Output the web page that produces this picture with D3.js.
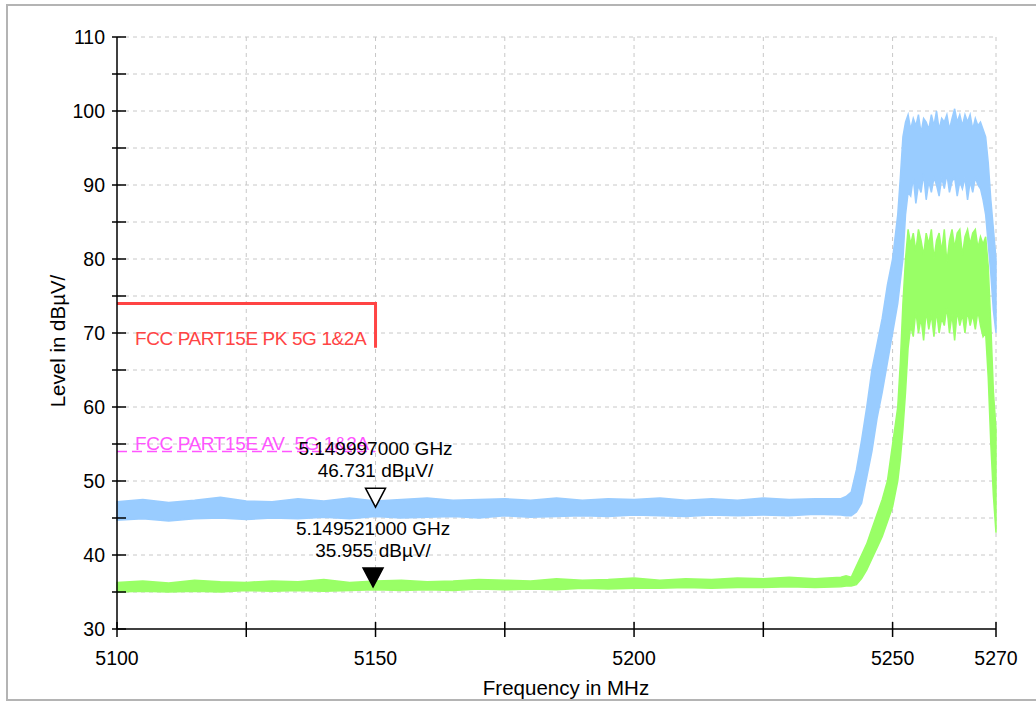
<!DOCTYPE html>
<html>
<head>
<script src="https://d3js.org/d3.v7.min.js"></script>
<style>
	body { margin: 0; background: #fff; }
	text { font-family: "Liberation Sans", Arial, sans-serif; }
	.grid line { stroke: #c8c8c8; stroke-width: 1px; stroke-dasharray: 4,4; }
	.axis line, .axis path { stroke: #000; stroke-width: 1.5px; }
</style>
</head>
<body>
<svg id="chart" width="1036" height="702"></svg>
<script>
// sample frequencies (MHz)
const freq = [5100, 5105, 5110, 5115, 5120, 5125, 5130, 5135, 5140, 5145, 5150, 5155, 5160, 5165,
	5170, 5175, 5180, 5185, 5190, 5195, 5200, 5205, 5210, 5215, 5220, 5225, 5230, 5235,
	5240, 5241, 5242, 5243, 5244, 5245, 5246, 5247, 5248, 5249, 5250, 5251,
	5251.5, 5252, 5252.5, 5253, 5253.5, 5254, 5254.5, 5255, 5255.5, 5256, 5256.5, 5257, 5257.5,
	5258, 5258.5, 5259, 5259.5, 5260, 5260.5, 5261, 5261.5, 5262, 5262.5, 5263, 5263.5, 5264,
	5264.5, 5265, 5265.5, 5266, 5266.5, 5267, 5267.5, 5268, 5268.5, 5269, 5269.5, 5270];

// peak trace (blue) upper / lower envelope, dBuV
const peakHi = [47.2, 47.5, 47.1, 47.4, 47.8, 47.3, 47.2, 47.6, 47.3, 47.7, 47.3, 47.5, 47.7, 47.4,
	47.5, 47.6, 47.4, 47.7, 47.4, 47.6, 47.5, 47.7, 47.4, 47.6, 47.4, 47.7, 47.5, 47.6,
	47.6, 47.9, 48.5, 51.5, 55.5, 60.0, 65.0, 68.5, 72.0, 76.5, 80.0, 86.0,
	91.0, 96.5, 98.5, 99.5, 97.5, 99.0, 98.0, 99.5, 97.0, 99.0, 98.5, 97.5, 99.5,
	98.0, 100.0, 97.5, 99.0, 98.5, 99.5, 97.5, 99.0, 100.3, 98.5, 99.5, 98.0, 99.5,
	98.5, 99.5, 97.5, 99.0, 98.0, 98.5, 97.5, 96.5, 93.0, 88.0, 84.0, 80.0];
const peakLo = [44.7, 44.9, 44.6, 44.9, 45.0, 44.8, 45.0, 44.9, 45.1, 44.9, 45.2, 45.0, 45.1, 45.2,
	45.0, 45.3, 45.1, 45.2, 45.3, 45.2, 45.4, 45.3, 45.2, 45.4, 45.3, 45.4, 45.3, 45.5,
	45.4, 45.3, 45.3, 45.8, 47.0, 50.5, 54.0, 58.5, 62.0, 66.0, 70.0, 74.0,
	77.0, 80.0, 86.0, 89.0, 88.5, 91.0, 87.5, 90.0, 89.0, 91.5, 88.0, 90.5, 89.0,
	91.0, 90.0, 88.5, 91.0, 89.5, 91.5, 89.0, 90.5, 91.0, 88.5, 90.5, 89.5, 91.0,
	88.0, 90.5, 89.0, 91.0, 90.0, 89.5, 88.0, 86.0, 82.0, 78.0, 73.0, 70.0];

// average trace (green) upper / lower envelope, dBuV
const avgHi = [36.3, 36.5, 36.2, 36.6, 36.4, 36.3, 36.5, 36.4, 36.7, 36.3, 36.5, 36.6, 36.4, 36.5,
	36.7, 36.6, 36.5, 36.8, 36.6, 36.7, 36.9, 36.6, 36.8, 36.7, 36.9, 36.8, 37.0, 36.8,
	37.0, 37.2, 37.0, 38.5, 40.0, 41.5, 43.5, 45.5, 47.5, 50.0, 55.0, 60.0,
	66.0, 74.0, 80.0, 84.0, 82.0, 83.5, 81.0, 84.0, 82.5, 80.5, 83.5, 82.0, 84.0,
	80.0, 82.5, 83.5, 81.0, 84.0, 79.5, 82.5, 84.0, 81.5, 83.5, 84.0, 80.5, 83.0,
	84.0, 82.0, 83.5, 84.0, 81.5, 83.0, 82.0, 83.0, 79.0, 71.0, 62.0, 57.0];
const avgLo = [35.0, 35.1, 35.0, 35.1, 35.0, 35.2, 35.1, 35.2, 35.1, 35.2, 35.3, 35.2, 35.3, 35.2,
	35.4, 35.3, 35.4, 35.3, 35.5, 35.4, 35.5, 35.5, 35.6, 35.5, 35.6, 35.6, 35.7, 35.6,
	35.7, 35.8, 35.8, 36.0, 36.8, 38.0, 39.5, 41.0, 42.5, 44.5, 46.5, 50.0,
	53.0, 57.0, 62.0, 68.0, 71.0, 69.5, 73.0, 70.0, 72.0, 69.0, 73.0, 70.5, 72.5,
	69.5, 73.0, 70.0, 72.0, 71.0, 73.5, 70.0, 72.5, 69.0, 73.0, 71.0, 72.5, 70.0,
	73.0, 71.0, 72.5, 70.5, 73.0, 71.0, 69.5, 70.0, 64.0, 55.0, 48.0, 43.0];

const yTicks = [30, 35, 40, 45, 50, 55, 60, 65, 70, 75, 80, 85, 90, 95, 100, 105, 110];
const yLabels = [30, 40, 50, 60, 70, 80, 90, 100, 110];
const xTicks = [5100, 5125, 5150, 5175, 5200, 5225, 5250, 5270];
const xLabels = [5100, 5150, 5200, 5250, 5270];

const pkLimit = [[5100, 74], [5150, 74], [5150, 68]];
const avLimit = [[5100, 54], [5150, 54]];
const limitNames = ['FCC PART15E PK 5G 1&2A', 'FCC PART15E AV  5G 1&2A'];

const markerFreq = [5149.997, 5149.521];
const markerLevel = [46.731, 35.955];
const markerText = [['5.149997000 GHz', '46.731 dBµV/'], ['5.149521000 GHz', '35.955 dBµV/']];

const svg = d3.select('#chart');
const x = d3.scaleLinear().domain([5100, 5270]).range([117, 996]);
const y = d3.scaleLinear().domain([30, 110]).range([629, 37]);

// outer frame
svg.append('rect').attr('x', 7).attr('y', 5).attr('width', 1100).attr('height', 695)
	.attr('fill', 'none').attr('stroke', '#b4b4b4').attr('stroke-width', 2);

// grid
const grid = svg.append('g').attr('class', 'grid');
grid.selectAll('line.h').data(yTicks.slice(1)).join('line').attr('class', 'h')
	.attr('x1', x(5100)).attr('x2', x(5270)).attr('y1', d => y(d)).attr('y2', d => y(d));
grid.selectAll('line.v').data(xTicks.slice(1)).join('line').attr('class', 'v')
	.attr('x1', d => x(d)).attr('x2', d => x(d)).attr('y1', y(110)).attr('y2', y(30));

// traces
const band = (hi, lo) => d3.area().x((d, i) => x(freq[i])).y0((d, i) => y(lo[i])).y1((d, i) => y(hi[i]))(freq);
svg.append('path').attr('d', band(peakHi, peakLo)).attr('fill', '#99ccff').attr('stroke', '#99ccff').attr('stroke-width', 1.5);
svg.append('path').attr('d', band(avgHi, avgLo)).attr('fill', '#99ff66').attr('stroke', '#99ff66').attr('stroke-width', 1.5);

// limit lines
const lim = d3.line().x(d => x(d[0])).y(d => y(d[1]));
svg.append('path').attr('d', lim(pkLimit)).attr('fill', 'none').attr('stroke', '#ff4444').attr('stroke-width', 3);
svg.append('path').attr('d', lim(avLimit)).attr('fill', 'none').attr('stroke', '#ff55ff')
	.attr('stroke-width', 1.5).attr('stroke-dasharray', '10,5');
svg.append('text').attr('x', 135).attr('y', 345).attr('fill', '#ff4444').attr('font-size', 19)
	.attr('letter-spacing', -0.4).style('white-space', 'pre').text(limitNames[0]);
svg.append('text').attr('x', 135).attr('y', 450).attr('fill', '#ff55ff').attr('font-size', 19)
	.attr('letter-spacing', -0.4).style('white-space', 'pre').text(limitNames[1]);

// axes
const axis = svg.append('g').attr('class', 'axis');
axis.append('line').attr('x1', x(5100)).attr('x2', x(5100)).attr('y1', y(110)).attr('y2', y(30));
axis.append('line').attr('x1', x(5100)).attr('x2', x(5270)).attr('y1', y(30)).attr('y2', y(30));
axis.selectAll('line.yt').data(yTicks).join('line').attr('class', 'yt')
	.attr('x1', x(5100) - 5).attr('x2', x(5100) + 9).attr('y1', d => y(d)).attr('y2', d => y(d));
axis.selectAll('line.xt').data(xTicks).join('line').attr('class', 'xt')
	.attr('x1', d => x(d)).attr('x2', d => x(d)).attr('y1', y(30) - 7).attr('y2', y(30) + 8);
axis.selectAll('text.yl').data(yLabels).join('text').attr('class', 'yl')
	.attr('x', x(5100) - 12).attr('y', d => y(d) + 7).attr('text-anchor', 'end').attr('font-size', 19.5).text(d => d);
axis.selectAll('text.xl').data(xLabels).join('text').attr('class', 'xl')
	.attr('x', d => x(d)).attr('y', y(30) + 36).attr('text-anchor', 'middle').attr('font-size', 19.5).text(d => d);

svg.append('text').attr('x', 566).attr('y', 695).attr('text-anchor', 'middle').attr('font-size', 20.5).text('Frequency in MHz');
svg.append('text').attr('transform', 'translate(65,341) rotate(-90)').attr('text-anchor', 'middle')
	.attr('font-size', 20.5).text('Level in dBµV/');

// markers
markerFreq.forEach((f, i) => {
	const mx = x(f), my = y(markerLevel[i]) + 2;
	svg.append('path').attr('d', `M${mx - 10},${my - 19}L${mx + 10},${my - 19}L${mx},${my}Z`)
		.attr('fill', i === 0 ? '#fff' : '#000').attr('stroke', '#000').attr('stroke-width', 1.5);
	svg.append('text').attr('x', mx).attr('y', my - 52).attr('text-anchor', 'middle').attr('font-size', 19).text(markerText[i][0]);
	svg.append('text').attr('x', mx).attr('y', my - 30).attr('text-anchor', 'middle').attr('font-size', 19).text(markerText[i][1]);
});
</script>
</body>
</html>
